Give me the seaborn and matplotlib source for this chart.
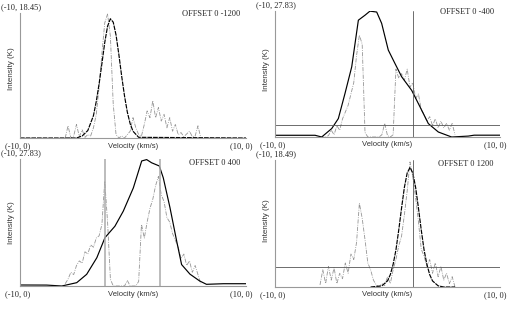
import numpy as np
import pandas as pd
import matplotlib
matplotlib.use("Agg")
import matplotlib.pyplot as plt
import seaborn as sns

# velocity grid of the observed (gray) spectra, km/s
obs_vel = [-6.0, -5.75, -5.5, -5.25, -5.0, -4.75, -4.5, -4.25, -4.0, -3.75,
           -3.5, -3.25, -3.0, -2.75, -2.5, -2.25, -2.0, -1.75, -1.5, -1.25,
           -1.0, -0.75, -0.5, -0.25, 0.0, 0.25, 0.5, 0.75, 1.0, 1.25,
           1.5, 1.75, 2.0, 2.25, 2.5, 2.75, 3.0, 3.25, 3.5, 3.75,
           4.0, 4.25, 4.5, 4.75, 5.0, 5.25, 5.5, 5.75, 6.0]

# observed intensities (K)
obs_m1200 = [0, 1.8, 0, 0.3, 2.0, 0.2, 1.2, 0.1, 0.5, 0.3,
             1.5, 3.5, 7.5, 12.5, 17.0, 18.3, 15.0, 5.0, 0.5, 0.0,
             0.3, 0.0, 0.5, 1.0, 3.0, 1.5, 0.5, 0.3, 2.0, 4.0,
             3.0, 5.5, 3.0, 4.5, 2.5, 3.5, 1.5, 3.0, 1.0, 2.0,
             0.5, 0.8, 0.2, 0.6, 1.0, 0.2, 0.3, 1.8, 0]
obs_m400 = [0, 0, 0, 0.3, 1.5, 0.5, 2.5, 1.5, 4.0, 5.5,
            7.0, 9.5, 12.0, 18.0, 22.5, 20.5, 1.0, 0, 0, 0,
            0, 0, 0.5, 3.0, 0.3, 0, 0.5, 15.0, 13.0, 14.0,
            12.5, 15.0, 11.0, 12.0, 8.5, 9.5, 6.0, 5.0, 3.5, 4.5,
            2.5, 4.0, 2.0, 3.5, 2.0, 3.0, 1.5, 3.0, 0.5]
obs_p400 = [0.5, 1.5, 3.0, 2.5, 4.5, 5.5, 5.0, 7.5, 7.0, 9.0,
            8.5, 10.5, 11.0, 13.5, 23.0, 14.0, 1.5, 0, 0, 0,
            0, 0, 1.2, 0, 0, 0, 1.0, 13.5, 10.5, 14.0,
            17.0, 19.0, 22.0, 24.0, 20.0, 18.5, 15.0, 14.0, 11.5, 10.0,
            8.5, 6.0, 7.0, 4.5, 5.5, 3.0, 4.5, 2.5, 0.5]
obs_p1200 = [0.3, 2.5, 0.5, 3.0, 1.0, 2.8, 0.5, 2.0, 1.2, 3.5,
             2.0, 4.8, 4.0, 6.5, 12.2, 10.0, 6.9, 3.5, 2.5, 1.0,
             0.3, 0, 0.5, 0.2, 1.5, 0.5, 2.5, 4.0, 6.0, 7.4,
             10.5, 14.0, 18.2, 16.0, 13.0, 9.5, 5.5, 4.5, 3.0, 4.0,
             2.0, 3.5, 1.5, 3.0, 1.0, 2.0, 0.5, 1.5, 0]

# fitted / model profiles (black)
fit_m1200_vel = [-10, -5.0, -4.5, -4.0, -3.5, -3.25, -3.0, -2.75, -2.5, -2.25,
                 -2.0, -1.75, -1.5, -1.25, -1.0, -0.75, -0.5, -0.25, 0.0, 0.5, 10]
fit_m1200 = [0, 0, 0.3, 1.1, 3.3, 5.4, 8.0, 11.0, 14.1, 16.5,
             17.6, 17.1, 15.2, 12.3, 9.1, 6.2, 3.8, 2.1, 1.0, 0.1, 0]

fit_m400_vel = [-10, -6.44, -5.85, -4.96, -4.37, -3.78, -3.18, -2.59, -2.0, -1.56,
                -0.96, -0.52, 0.07, 0.67, 1.26, 2.15, 2.74, 3.63, 4.52, 5.7,
                7.18, 7.7, 10]
fit_m400 = [0.38, 0.38, 0, 1.86, 4.07, 9.6, 15.5, 25.8, 26.9, 27.8,
            27.6, 25.1, 19.2, 16.2, 13.3, 10.3, 7.4, 2.96, 1.1, 0,
            0.2, 0.4, 0.4]

fit_p400_vel = [-10, -7.64, -6.3, -4.98, -4.1, -3.2, -2.48, -1.6, -0.86, 0.03,
                0.77, 1.21, 1.65, 2.33, 2.68, 3.27, 3.86, 4.3, 5.04, 5.9,
                6.5, 8.0, 10]
fit_p400 = [0.22, 0.2, 0, 0.73, 2.56, 6.2, 10.6, 13.1, 16.4, 21.5,
            27.4, 27.7, 27.0, 26.3, 23.7, 17.2, 9.9, 4.7, 2.6, 1.1,
            0.37, 0.5, 0.5]

fit_p1200_vel = [-1.5, -0.5, 0.0, 0.25, 0.5, 0.75, 1.0, 1.25, 1.5, 1.75,
                 2.0, 2.25, 2.5, 2.75, 3.0, 3.25, 3.5, 3.75, 4.0, 4.5, 5.0, 6.0]
fit_p1200 = [0, 0.17, 0.89, 1.8, 3.3, 5.4, 8.3, 11.5, 14.5, 16.6,
             17.4, 16.6, 14.5, 11.5, 8.3, 5.4, 3.3, 1.8, 0.89, 0.17, 0, 0]

offsets = ["OFFSET 0 -1200", "OFFSET 0 -400", "OFFSET 0 400", "OFFSET 0 1200"]
y_max = [18.45, 27.83, 27.83, 18.49]
hlines = [None, 2.6, None, 2.96]
vlines = [[], [2.3], [-2.45, 2.39], [2.29]]

W, H = 509, 316
sns.set_style("white")
plt.rcParams["font.family"] = ["Liberation Sans", "DejaVu Sans"]

fig = plt.figure(figsize=(W / 100, H / 100), dpi=100)

# pixel boxes: left, right, top, bottom
boxes = [(20, 246, 13, 138), (275, 500, 11, 137), (20, 246, 159, 286), (275, 500, 160, 287)]
ylab_y = [69, 70, 223, 221]
obs_all = [obs_m1200, obs_m400, obs_p400, obs_p1200]
fit_all = [(fit_m1200_vel, fit_m1200), (fit_m400_vel, fit_m400),
           (fit_p400_vel, fit_p400), (fit_p1200_vel, fit_p1200)]


def ftxt(x, y, s, **kw):
    fig.text(x / W, 1 - y / H, s, **kw)


for i, (l, r, t, b) in enumerate(boxes):
    ax = fig.add_axes([l / W, 1 - b / H, (r - l) / W, (b - t) / H])
    obs = pd.DataFrame({"v": obs_vel, "T": obs_all[i]})
    fit = pd.DataFrame({"v": fit_all[i][0], "T": fit_all[i][1]})
    sns.lineplot(data=obs, x="v", y="T", ax=ax, color="#959595", lw=0.6,
                 linestyle=(0, (5, 1.5, 1, 1.5)), clip_on=False)
    sns.lineplot(data=fit, x="v", y="T", ax=ax, color="black", lw=0.85,
                 linestyle=(0, (4, 0.8)) if i in (0, 3) else "-")
    if hlines[i] is not None:
        ax.axhline(hlines[i], color="#555555", lw=0.6)
    for v in vlines[i]:
        if i == 2:
            ax.axvline(v, color="#aaaaaa", lw=1.1)
        else:
            ax.axvline(v, color="#555555", lw=0.6)
    ax.set_xlim(-10, 10)
    ax.set_ylim(0, y_max[i])
    ax.set_xticks([])
    ax.set_yticks([])
    ax.set_xlabel("")
    ax.set_ylabel("")
    for s in ["top", "right"]:
        ax.spines[s].set_visible(False)
    for s in ["left", "bottom"]:
        ax.spines[s].set_color("#999999")
        ax.spines[s].set_linewidth(0.8)
    ax.patch.set_alpha(0)

    # texts
    ftxt(l - 20 + 1, t - 6, f"(-10, {y_max[i]:.2f})", family="Liberation Serif",
         fontsize=6, ha="left", va="center")
    ftxt(l - 15, b + 8, "(-10, 0)", family="Liberation Serif", fontsize=6, ha="left", va="center")
    ftxt(r + 7, b + 8, "(10, 0)", family="Liberation Serif", fontsize=6, ha="right", va="center")
    ftxt((l + r) / 2, b + 8, "Velocity (km/s)", fontsize=5.5, color="#333333", ha="center", va="center")
    ftxt(l - 8, ylab_y[i], "Intensity (K)", fontsize=5.8, color="#333333", ha="center",
         va="center", rotation=90)
    ftxt(r - 6, t + 1 if i < 2 else t + 4, offsets[i], family="Liberation Serif", fontsize=6,
         ha="right", va="center")

fig.savefig("out.png", dpi=100)
